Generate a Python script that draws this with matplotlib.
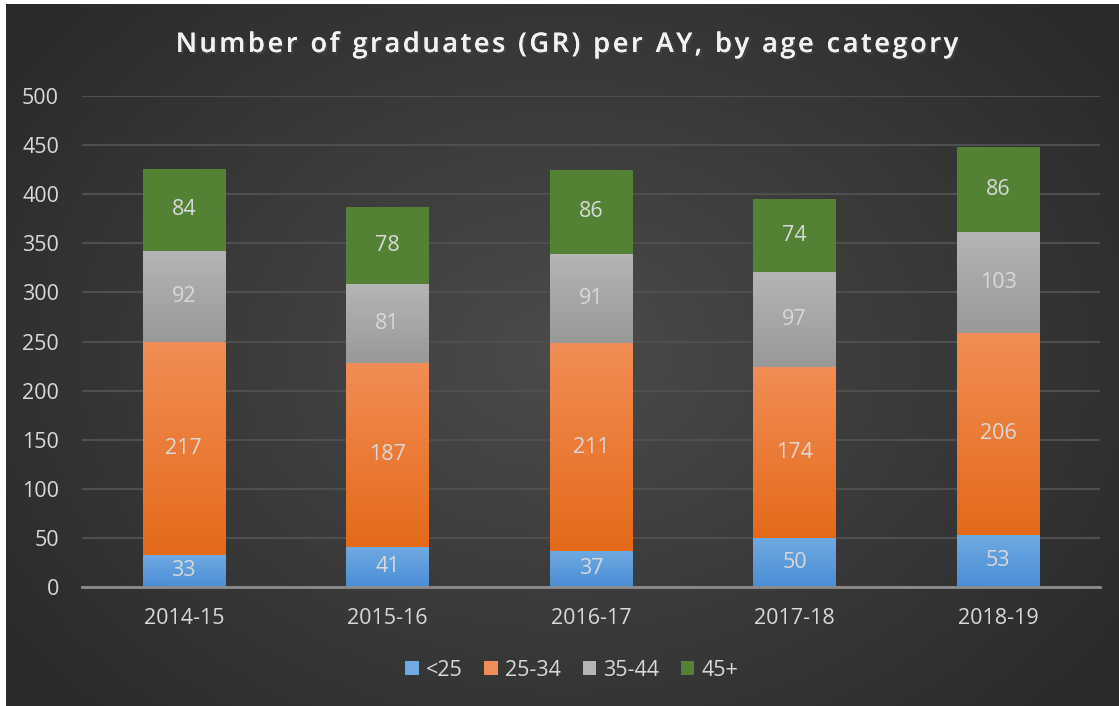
import numpy as np
import matplotlib
matplotlib.use("Agg")
import matplotlib.pyplot as plt
import matplotlib.patheffects as pe
from matplotlib.colors import to_rgb
from matplotlib.patches import Rectangle

# ── data ──────────────────────────────────────────────────────────────────────
years = ["2014-15", "2015-16", "2016-17", "2017-18", "2018-19"]
age_groups = ["<25", "25-34", "35-44", "45+"]
under25 = [33, 41, 37, 50, 53]
age25_34 = [217, 187, 211, 174, 206]
age35_44 = [92, 81, 91, 97, 103]
age45_plus = [84, 78, 86, 74, 86]
title = "Number of graduates (GR) per AY, by age category"

# (top colour, bottom colour) per series
GRADS = [
    ("#70aae2", "#4a8ed6"),
    ("#f28d55", "#e46a1a"),
    ("#b5b5b5", "#999999"),
    ("#548235", "#548235"),
]
TXT = "#d9d9d9"
FONT = "Open Sans"
FS = 15.5

plt.rcParams["font.family"] = [FONT, "DejaVu Sans"]

W, H = 1119, 706
fig = plt.figure(figsize=(W / 100, H / 100), dpi=100, facecolor="white")

# ── radial background ─────────────────────────────────────────────────────────
bg = fig.add_axes([6 / W, 0, 1 - 6 / W, 1 - 4 / H], zorder=0)
yy, xx = np.mgrid[0:1:300j, 0:1:480j]
r = np.sqrt(((xx - 0.5) / 0.62) ** 2 + ((yy - 0.5) / 0.75) ** 2)
r = np.clip(r, 0, 1)
c0, c1 = np.array(to_rgb("#4b4b4b")), np.array(to_rgb("#2a2a2a"))
img = c0[None, None, :] * (1 - r[..., None]) + c1[None, None, :] * r[..., None]
bg.imshow(img, aspect="auto", extent=[0, 1, 0, 1], interpolation="bilinear")
bg.set_axis_off()

# ── chart ─────────────────────────────────────────────────────────────────────
ax = fig.add_axes([82 / W, 1 - 587 / H, (1100 - 82) / W, (587 - 96) / H], zorder=1)
ax.patch.set_alpha(0)

series = [under25, age25_34, age35_44, age45_plus]
x = np.arange(len(years))
bottom = np.zeros(len(years))
handles = []
for vals, (ctop, cbot), label in zip(series, GRADS, age_groups):
    vals = np.array(vals, dtype=float)
    bars = ax.bar(x, vals, 0.405, bottom=bottom, color=cbot, linewidth=0,
                  zorder=3, label=label)
    grad = np.linspace(0, 1, 100)[:, None]
    gimg = (np.array(to_rgb(cbot))[None, None, :] * (1 - grad[..., None])
            + np.array(to_rgb(ctop))[None, None, :] * grad[..., None])
    for b in bars:
        x0, y0 = b.get_x(), b.get_y()
        im = ax.imshow(gimg, aspect="auto", origin="lower", zorder=3.5,
                       extent=[x0, x0 + b.get_width(), y0, y0 + b.get_height()])
        im.set_clip_path(b)
    for xi, v, b0 in zip(x, vals, bottom):
        ax.text(xi, b0 + v / 2, f"{v:.0f}", ha="center", va="center",
                color=TXT, fontsize=FS, zorder=5)
    handles.append(Rectangle((0, 0), 1, 1, facecolor=ctop, edgecolor="none"))
    bottom += vals

ax.set_xlim(-0.5, len(years) - 0.5)
ax.set_ylim(0, 500)
ax.set_yticks(range(0, 501, 50))
ax.set_xticks(x)
ax.set_xticklabels(years)
ax.tick_params(length=0, colors=TXT, labelsize=FS)
ax.tick_params(axis="y", pad=16.5)
ax.tick_params(axis="x", pad=15)
ax.grid(axis="y", color="#4f4f4f", linewidth=1.5, zorder=0)
for s in ["top", "right", "left"]:
    ax.spines[s].set_visible(False)
ax.spines["bottom"].set_color("#8c8c8c")
ax.spines["bottom"].set_linewidth(2)
ax.spines["bottom"].set_zorder(4)

# ── title with letter spacing (drawn char by char) ────────────────────────────
renderer = fig.canvas.get_renderer()
tkw = dict(color="#f2f2f2", fontsize=19.5, fontweight="semibold", va="center",
           ha="left",
           path_effects=[pe.withSimplePatchShadow(offset=(1.5, -1.5), alpha=0.6),
                         pe.Normal()])
spacing = 2.6  # px between characters
widths = []
for ch in title:
    t = fig.text(0, 0, ch if ch != " " else "n", **tkw)
    w = t.get_window_extent(renderer).width
    if ch == " ":
        w *= 0.45
    widths.append(w)
    t.remove()
total = sum(widths) + spacing * (len(title) - 1)
xpos = 567 - total / 2
for ch, w in zip(title, widths):
    if ch != " ":
        fig.text(xpos / W, 1 - 45 / H, ch, **tkw)
    xpos += w + spacing

fig.legend(handles, age_groups, loc="center", bbox_to_anchor=(572 / W, 1 - 670 / H),
           ncol=4, frameon=False, fontsize=FS, labelcolor=TXT,
           handlelength=0.62, handleheight=0.62, handletextpad=0.35,
           columnspacing=1.0)

fig.savefig("out.png", dpi=100, facecolor="white")
